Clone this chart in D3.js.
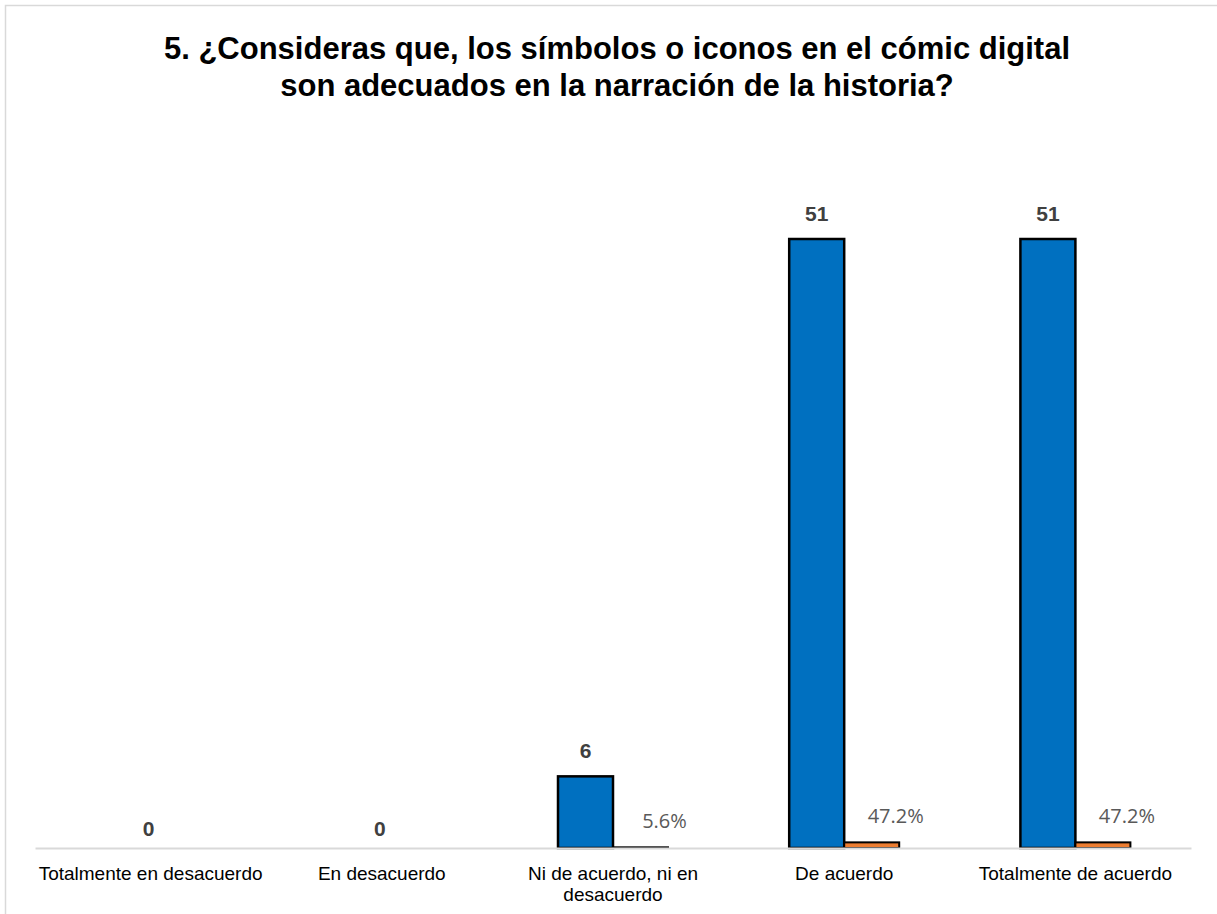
<!DOCTYPE html>
<html>
<head>
<meta charset="utf-8">
<script src="https://cdn.jsdelivr.net/npm/d3@7"></script>
<style>
  html, body { margin: 0; padding: 0; background: #fff; overflow: hidden; }
  svg { display: block; }
</style>
</head>
<body>
<svg id="chart" width="1217" height="914"></svg>
<script>
// Survey answers for question 5
const categories = [
  ["Totalmente en desacuerdo"],
  ["En desacuerdo"],
  ["Ni de acuerdo, ni en", "desacuerdo"],
  ["De acuerdo"],
  ["Totalmente de acuerdo"]
];
const counts = [0, 0, 6, 51, 51];
const shares = [0, 0, 0.056, 0.472, 0.472];
const shareLabels = ["", "", "5.6%", "47.2%", "47.2%"];
const titleLines = [
  "5. ¿Consideras que, los símbolos o iconos en el cómic digital",
  "son adecuados en la narración de la historia?"
];

const svg = d3.select("#chart");
const W = 1217, H = 914;
const plot = { left: 35, right: 1191, top: 239, bottom: 848 };

// outer frame of the chart area
svg.append("rect")
  .attr("x", 5.5).attr("y", 5.5)
  .attr("width", W + 50).attr("height", H + 50)
  .attr("fill", "#fff").attr("stroke", "#d9d9d9").attr("stroke-width", 1.5);

// title
svg.append("g").selectAll("text").data(titleLines).join("text")
  .attr("x", 617).attr("y", (d, i) => 59 + i * 37)
  .attr("text-anchor", "middle")
  .attr("font-family", "Liberation Sans, Arial, sans-serif")
  .attr("font-weight", "bold").attr("font-size", 31)
  .attr("fill", "#000")
  .text(d => d);

const idx = d3.range(categories.length);
const x = d3.scaleBand().domain(idx).range([plot.left, plot.right]).padding(0);
const y = d3.scaleLinear().domain([0, 51]).range([plot.bottom, plot.top]);
const barW = 55;
const mid = i => x(i) + x.bandwidth() / 2;

const g = svg.append("g");

// count bars
g.selectAll("rect.count").data(idx).join("rect")
  .attr("class", "count")
  .attr("x", i => mid(i) - barW)
  .attr("y", i => y(counts[i]))
  .attr("width", barW)
  .attr("height", i => y(0) - y(counts[i]))
  .attr("fill", "#0070c0")
  .attr("stroke", "#000").attr("stroke-width", 2.5)
  .style("display", i => counts[i] > 0 ? null : "none");

// share bars on the same axis
g.selectAll("rect.share").data(idx).join("rect")
  .attr("class", "share")
  .attr("x", i => mid(i))
  .attr("y", i => y(shares[i]))
  .attr("width", barW)
  .attr("height", i => y(0) - y(shares[i]))
  .attr("fill", "#ed7d31")
  .attr("stroke", "#000").attr("stroke-width", 2)
  .style("display", i => shares[i] > 0 ? null : "none");

// baseline axis
const axis = d3.axisBottom(x).tickSize(0).tickFormat(() => "");
const ax = svg.append("g").attr("transform", `translate(0,${plot.bottom})`).call(axis);
ax.select(".domain").attr("stroke", "#d9d9d9").attr("stroke-width", 2);

// category labels
const labs = svg.append("g").selectAll("text").data(idx).join("text")
  .attr("x", i => mid(i))
  .attr("y", 880)
  .attr("text-anchor", "middle")
  .attr("font-family", "Liberation Sans, Arial, sans-serif")
  .attr("font-size", 19).attr("fill", "#000");
labs.selectAll("tspan").data(i => categories[i].map(t => ({ t, i }))).join("tspan")
  .attr("x", d => mid(d.i))
  .attr("dy", (d, j) => j === 0 ? 0 : 21)
  .text(d => d.t);

// count value labels
svg.append("g").selectAll("text").data(idx).join("text")
  .attr("x", i => counts[i] > 0 ? mid(i) - barW / 2 : mid(i) - 2)
  .attr("y", i => counts[i] > 0 ? y(counts[i]) - 18 : y(0) - 12)
  .attr("text-anchor", "middle")
  .attr("font-family", "Liberation Sans, Arial, sans-serif")
  .attr("font-weight", "bold").attr("font-size", 21)
  .attr("fill", "#404040")
  .text(i => counts[i]);

// share value labels
svg.append("g").selectAll("text").data(idx).join("text")
  .attr("x", i => mid(i) + barW / 2 + 24)
  .attr("y", i => y(shares[i]) - 19)
  .attr("text-anchor", "middle")
  .attr("font-family", "Open Sans, Lato, sans-serif")
  .attr("font-size", 20).attr("fill", "#595959")
  .text(i => shareLabels[i]);
</script>
</body>
</html>
